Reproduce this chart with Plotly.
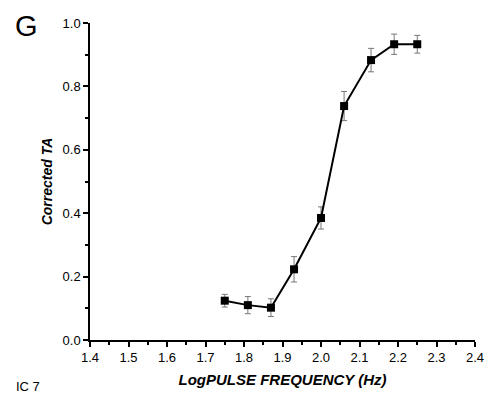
import plotly.graph_objects as go

log_freq = [1.75, 1.81, 1.87, 1.93, 2.00, 2.06, 2.13, 2.19, 2.25]
corrected_ta = [0.124, 0.110, 0.102, 0.223, 0.385, 0.738, 0.883, 0.933, 0.933]
ta_err = [0.020, 0.027, 0.028, 0.040, 0.035, 0.046, 0.037, 0.032, 0.028]

x_ticks = [1.4, 1.5, 1.6, 1.7, 1.8, 1.9, 2.0, 2.1, 2.2, 2.3, 2.4]
y_ticks = [0.0, 0.2, 0.4, 0.6, 0.8, 1.0]

FONT = "Liberation Sans, Arial, sans-serif"

fig = go.Figure()
fig.add_trace(go.Scatter(
    x=log_freq, y=corrected_ta,
    mode="lines+markers",
    line=dict(color="black", width=2),
    marker=dict(symbol="square", size=8, color="black"),
    error_y=dict(type="data", array=ta_err, visible=True,
                 color="#777777", thickness=1, width=3),
    showlegend=False,
))

fig.update_layout(
    width=495, height=400,
    margin=dict(l=90, r=11, t=23, b=60),
    plot_bgcolor="white", paper_bgcolor="white",
    font=dict(family=FONT, color="black", size=13),
    xaxis=dict(
        range=[1.4, 2.4], tickvals=x_ticks,
        ticktext=[f"{v:.1f}" for v in x_ticks],
        showgrid=False, zeroline=False,
        showline=True, linecolor="black", linewidth=1.5,
        ticks="outside", ticklen=5, tickwidth=1.5, tickcolor="black",
        minor=dict(dtick=0.05, tick0=1.4, ticks="outside", ticklen=3,
                   tickwidth=1.5, tickcolor="black", showgrid=False),
        tickfont=dict(size=13, family=FONT),
        title=dict(text="<b><i>LogPULSE FREQUENCY (Hz)</i></b>",
                   font=dict(size=15, family=FONT), standoff=10),
    ),
    yaxis=dict(
        range=[0, 1.0], tickvals=y_ticks,
        ticktext=[f"{v:.1f}" for v in y_ticks],
        showgrid=False, zeroline=False,
        showline=True, linecolor="black", linewidth=1.5,
        ticks="outside", ticklen=5, tickwidth=1.5, tickcolor="black",
        minor=dict(dtick=0.1, tick0=0, ticks="outside", ticklen=3,
                   tickwidth=1.5, tickcolor="black", showgrid=False),
        tickfont=dict(size=13, family=FONT),
        title=dict(text="<b><i>Corrected TA</i></b>",
                   font=dict(size=14, family=FONT), standoff=7),
    ),
)

fig.add_annotation(text="G", xref="paper", yref="paper",
                   x=-79/394, y=(340-26)/317, showarrow=False,
                   font=dict(size=29, family=FONT), xanchor="left", yanchor="middle")
fig.add_annotation(text="IC 7", xref="paper", yref="paper",
                   x=-78/394, y=-46/317, showarrow=False,
                   font=dict(size=13, family=FONT), xanchor="left", yanchor="middle")

fig.write_html("out.html")
